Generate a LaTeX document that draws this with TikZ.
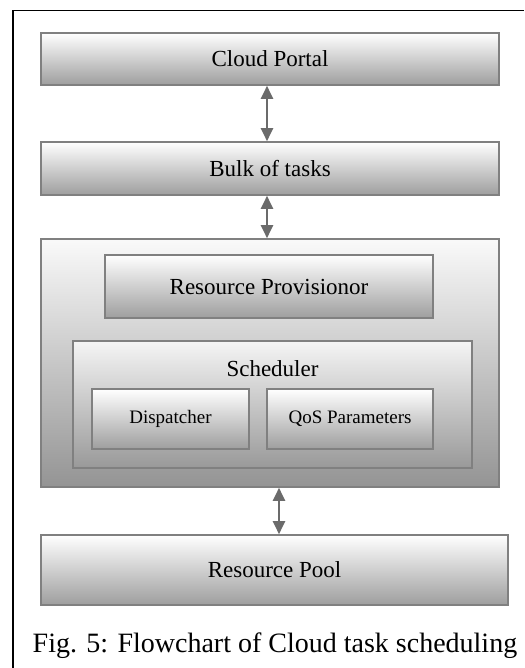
\documentclass[tikz,border=0pt]{standalone}
\usepackage{fontspec}
\setmainfont{Liberation Serif}
\usetikzlibrary{arrows.meta}
\begin{document}
\begin{tikzpicture}[x=1pt,y=-1pt,
  gbox/.style={draw=black!50, line width=1.6pt, rectangle, inner sep=0pt,
    top color=white, bottom color=black!38, text=black},
  outerbox/.style={draw=black!50, line width=1.6pt, rectangle, inner sep=0pt,
    top color=black!2, bottom color=black!42},
  bigtxt/.style={font=\fontsize{23}{26}\selectfont},
  smalltxt/.style={font=\fontsize{19}{22}\selectfont},
  arr/.style={draw=black!58, line width=2pt,
    {Triangle[width=12pt,length=13pt]}-{Triangle[width=12pt,length=13pt]}},
]
\useasboundingbox (0,0) rectangle (524,668);
\fill[white] (0,0) rectangle (524,668);
\draw[line width=1.5pt] (13,668) -- (13,10.5) -- (524,10.5);

\node[gbox, bigtxt, minimum width=458pt, minimum height=52pt] (portal) at (270,59) {Cloud Portal};
\node[gbox, bigtxt, minimum width=458pt, minimum height=53pt] (bulk) at (270,168.5) {Bulk of tasks};
\node[outerbox, minimum width=458pt, minimum height=248pt] (cont) at (270,363) {};
\node[gbox, bigtxt, minimum width=328pt, minimum height=63pt] (prov) at (269,286.5) {Resource Provisionor};
\node[gbox, minimum width=399pt, minimum height=127pt, top color=black!4, bottom color=black!40] (sched) at (272.5,404.5) {};
\node[bigtxt, inner sep=0pt, anchor=base] (schedlbl) at (272.5,376) {Scheduler};
\node[gbox, smalltxt, minimum width=157pt, minimum height=60pt] (disp) at (170.5,419) {Dispatcher};
\node[gbox, smalltxt, minimum width=166pt, minimum height=60pt] (qos) at (350,419) {QoS Parameters};
\node[gbox, bigtxt, minimum width=467pt, minimum height=70pt] (pool) at (274.5,570) {Resource Pool};

\node[inner sep=0pt, anchor=base, font=\fontsize{28}{32}\selectfont] (cap) at (275,652) {Fig. 5: Flowchart of Cloud task scheduling};

\draw[arr] ([xshift=-3pt]portal.south) -- ([xshift=-3pt]bulk.north);
\draw[arr] ([xshift=-3pt]bulk.south) -- ([xshift=-3pt]cont.north);
\draw[arr] ([xshift=9pt]cont.south) -- ([xshift=9pt]cont.south |- pool.north);
\end{tikzpicture}
\end{document}
